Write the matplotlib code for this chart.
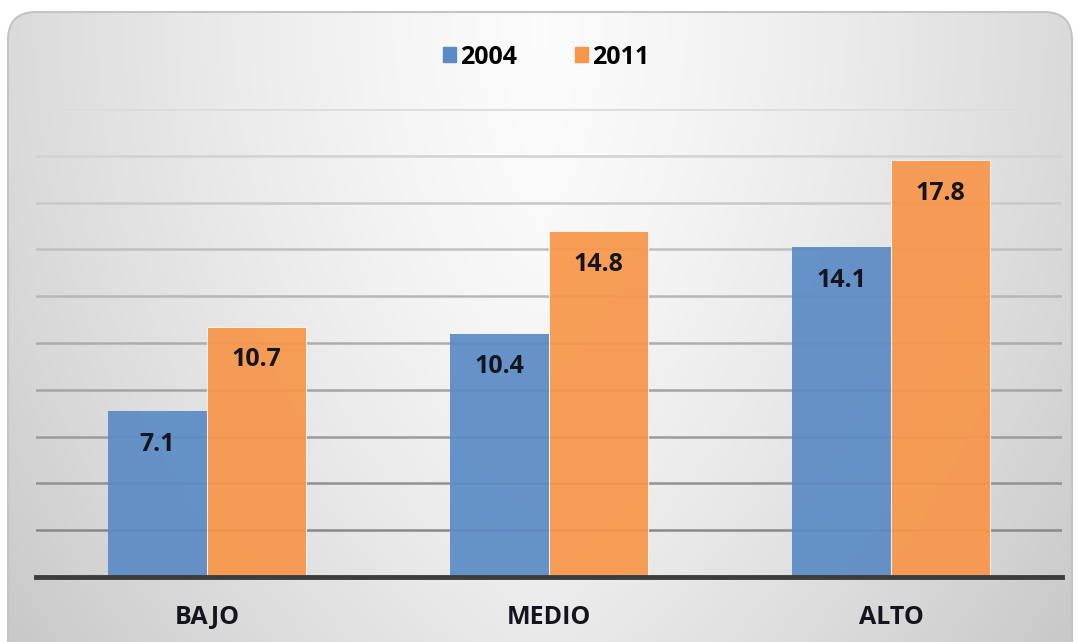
import matplotlib.pyplot as plt
import numpy as np
from matplotlib.patches import FancyBboxPatch, Patch

plt.rcParams['font.family'] = ['Open Sans', 'DejaVu Sans']

categories = ['BAJO', 'MEDIO', 'ALTO']
years = ['2004', '2011']
values_2004 = [7.1, 10.4, 14.1]
values_2011 = [10.7, 14.8, 17.8]

blue = '#5b8bc5'
orange = '#f7964a'
text_dark = '#15151f'

fig = plt.figure(figsize=(10.78, 6.42), dpi=100)
fig.patch.set_facecolor('white')

# background panel with a soft gray-white-gray gradient and rounded corners
bg = fig.add_axes([0, 0, 1, 1])
bg.set_xlim(0, 1078)
bg.set_ylim(642, 0)
bg.axis('off')
xx = np.linspace(0, 1, 400)
yy = np.linspace(0, 1, 200)
X, Y = np.meshgrid(xx, yy)
shade = 0.985 - 0.16 * np.abs(X - 0.5) ** 1.3 * 2 - 0.07 * Y ** 2
img = bg.imshow(np.dstack([shade, shade, shade]), extent=[8, 1072, 645, 12],
                aspect='auto', zorder=1)
panel = FancyBboxPatch((8, 12), 1064, 660, boxstyle='round,pad=0,rounding_size=28',
                       facecolor='none', edgecolor='#c4c4c4', lw=1.5, zorder=2)
bg.add_patch(panel)
img.set_clip_path(panel)

# plot area
ax = fig.add_axes([36 / 1078, 1 - 577 / 642, 1026 / 1078, 468 / 642])
ax.patch.set_alpha(0)
x = np.arange(len(categories))
w = 0.29
b1 = ax.bar(x - w / 2, values_2004, w, color=blue, alpha=0.93, zorder=3, label=years[0])
b2 = ax.bar(x + w / 2, values_2011, w, color=orange, alpha=0.93, zorder=3, label=years[1],
            edgecolor='white', linewidth=0.6)

ax.set_xlim(-0.5, 2.5)
ax.set_ylim(0, 20)
ax.set_yticks(np.arange(2, 21, 2))
for t in ax.get_yticks():
    c = 0.5 + 0.36 * (t / 20)
    ax.axhline(t, color=(c, c, c), lw=1.8, zorder=1)
ax.axhline(0, color='#3c3c3c', lw=3.5, zorder=4, clip_on=False)

for s in ax.spines.values():
    s.set_visible(False)
ax.tick_params(left=False, labelleft=False, bottom=False)
ax.set_xticks(x)
ax.set_xticklabels(categories, fontsize=18, fontweight='bold', color=text_dark)
ax.tick_params(axis='x', pad=17)

for bars in (b1, b2):
    for r in bars:
        ax.annotate(f'{r.get_height():.1f}', (r.get_x() + r.get_width() / 2, r.get_height()),
                    xytext=(0, -24), textcoords='offset points', ha='center', va='center',
                    fontsize=18, fontweight='bold', color=text_dark, zorder=5)

handles = [Patch(color=blue), Patch(color=orange)]
fig.legend(handles, years, loc='center', bbox_to_anchor=(546 / 1078, 1 - 57 / 642),
           ncol=2, frameon=False, prop={'size': 18, 'weight': 'bold'},
           handlelength=0.55, handleheight=0.55, handletextpad=0.15, columnspacing=2.3)

fig.savefig('out.png', dpi=100)
plt.close()
